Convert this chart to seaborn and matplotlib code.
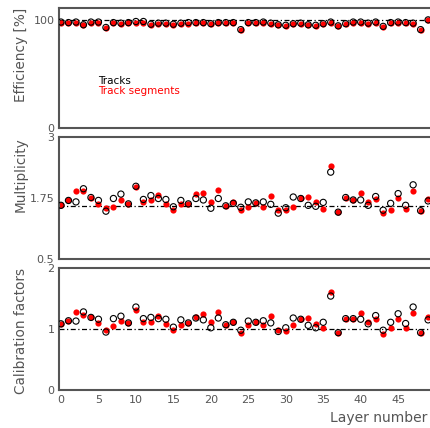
import numpy as np
import pandas as pd
import matplotlib
matplotlib.use("Agg")
import matplotlib.pyplot as plt
import seaborn as sns

# Layer numbers
layers = list(range(50))

# Efficiency [%]
eff_segments = [97.5, 97, 97.5, 95, 97.5, 97.5, 92.5, 97, 96.5, 97,
                97.5, 97.5, 95.5, 96.5, 96.5, 95.5, 96.5, 96.5, 97, 97,
                96, 97, 97, 97, 90.5, 97, 97, 97.5, 96.5, 95,
                94.5, 96, 96.5, 95, 94, 96, 97, 94, 96, 97.5,
                97.5, 96.5, 97.5, 93.5, 97, 97.5, 97, 96.5, 90.5, 100]
eff_tracks = [98, 97.5, 98, 95.5, 98, 98, 93, 97.5, 97, 97.5,
              98.5, 98.5, 96, 97, 97, 96, 97, 97.5, 97.5, 97.5,
              96.5, 97.5, 97.5, 97.5, 91, 97.5, 97.5, 98, 97, 95.5,
              95, 96.5, 97, 95.5, 95, 96.5, 98, 94.5, 96.5, 98,
              98, 97, 98, 94, 97.5, 98, 97.5, 97, 91, 100]

# Multiplicity
mult_segments = [1.60, 1.70, 1.90, 1.89, 1.76, 1.63, 1.54, 1.57, 1.71, 1.63,
                 1.97, 1.66, 1.71, 1.81, 1.62, 1.50, 1.62, 1.63, 1.83, 1.86,
                 1.66, 1.92, 1.59, 1.66, 1.50, 1.57, 1.65, 1.57, 1.80, 1.51,
                 1.50, 1.57, 1.74, 1.78, 1.67, 1.53, 2.40, 1.46, 1.76, 1.71,
                 1.85, 1.66, 1.73, 1.44, 1.51, 1.74, 1.53, 1.90, 1.49, 1.72]
mult_tracks = [1.60, 1.70, 1.67, 1.94, 1.76, 1.70, 1.48, 1.74, 1.83, 1.63,
               1.99, 1.72, 1.80, 1.74, 1.72, 1.57, 1.70, 1.63, 1.74, 1.71,
               1.54, 1.74, 1.59, 1.64, 1.56, 1.67, 1.65, 1.67, 1.62, 1.44,
               1.55, 1.77, 1.74, 1.60, 1.58, 1.66, 2.28, 1.46, 1.76, 1.71,
               1.71, 1.60, 1.78, 1.50, 1.64, 1.84, 1.60, 2.02, 1.49, 1.69]

# Calibration factors
cal_segments = [1.085, 1.135, 1.28, 1.23, 1.19, 1.10, 0.99, 1.05, 1.135, 1.10,
                1.31, 1.12, 1.12, 1.21, 1.085, 0.99, 1.07, 1.10, 1.20, 1.245,
                1.11, 1.28, 1.07, 1.11, 0.93, 1.06, 1.11, 1.06, 1.21, 0.99,
                0.975, 1.06, 1.16, 1.18, 1.09, 1.01, 1.60, 0.94, 1.17, 1.17,
                1.26, 1.11, 1.17, 0.92, 1.02, 1.17, 1.02, 1.27, 0.94, 1.20]
cal_tracks = [1.085, 1.135, 1.13, 1.28, 1.19, 1.16, 0.95, 1.17, 1.21, 1.10,
              1.36, 1.17, 1.19, 1.17, 1.16, 1.03, 1.15, 1.10, 1.18, 1.15,
              1.02, 1.18, 1.07, 1.11, 0.98, 1.13, 1.11, 1.135, 1.10, 0.96,
              1.02, 1.18, 1.16, 1.06, 1.02, 1.11, 1.54, 0.94, 1.17, 1.17,
              1.16, 1.085, 1.22, 0.98, 1.11, 1.25, 1.09, 1.36, 0.94, 1.15]

ref_lines = [100, 1.58, 1.0]

panels = [
    ("Efficiency [%]", eff_segments, eff_tracks, (0, 111), [0, 100], [50], ["0", "100"]),
    ("Multiplicity", mult_segments, mult_tracks, (0.5, 3),
     [0.5, 1.75, 3], [0.5 + 2.5 / 6 * k for k in (1, 2, 4, 5)], ["0.5", "1.75", "3"]),
    ("Calibration factors", cal_segments, cal_tracks, (0, 2), [0, 1, 2], [0.5, 1.5], ["0", "1", "2"]),
]

sns.set_style("white")
plt.rcParams['font.family'] = ['DejaVu Sans']

fig = plt.figure(figsize=(4.30, 4.28), dpi=100)
tops = [8, 137, 268]
bottoms = [128, 259, 390]
frame_col = "#555555"
text_col = "#555555"
ax_w = 0.87

for k, (label, seg, trk, ylim, majors, minors, ticklabels) in enumerate(panels):
    ax = fig.add_axes([58.5 / 430, 1 - bottoms[k] / 428, ax_w, (bottoms[k] - tops[k]) / 428])
    df = pd.DataFrame({"layer": layers, "segments": seg, "tracks": trk})
    ax.axhline(ref_lines[k], color="black", lw=0.9, ls=(0, (4, 2, 1, 2)), zorder=1)
    sns.scatterplot(data=df, x="layer", y="segments", ax=ax, color="red",
                    s=20, linewidth=0, zorder=2, legend=False)
    sns.scatterplot(data=df, x="layer", y="tracks", ax=ax, facecolor="none",
                    edgecolor="black", s=20, linewidth=0.8, zorder=3, legend=False)
    ax.set_xlim(-0.33, 49.6)
    ax.set_ylim(*ylim)
    ax.set_yticks(majors)
    ax.set_yticks(minors, minor=True)
    ax.set_yticklabels(ticklabels)
    ax.set_xticks(range(0, 50, 5))
    ax.set_xticks(range(0, 50), minor=True)
    ax.tick_params(axis="both", which="major", direction="in", length=6, width=0.8,
                   color=frame_col, labelsize=8, labelcolor=text_col, top=False, right=False)
    ax.tick_params(axis="both", which="minor", direction="in", length=3, width=0.8,
                   color=frame_col, top=False, right=False)
    ax.tick_params(axis="y", which="major", length=6, pad=3)
    if k < 2:
        ax.set_xticklabels([])
    ax.set_xlabel("")
    ax.set_ylabel(label, fontsize=9.8, color=text_col, loc="top")
    ax.yaxis.set_label_coords((28 - 58.5) / (ax_w * 430), 1.0)
    for sp in ax.spines.values():
        sp.set_color(frame_col)
        sp.set_linewidth(1.5)
    if k == 0:
        ax.text(5, 41, "Tracks", color="black", fontsize=7.5)
        ax.text(5, 31, "Track segments", color="red", fontsize=7.5)

fig.text(0.995, 1 - 418 / 428, "Layer number", fontsize=10, color=text_col,
         ha="right", va="center")

fig.savefig("out.png", dpi=100)
